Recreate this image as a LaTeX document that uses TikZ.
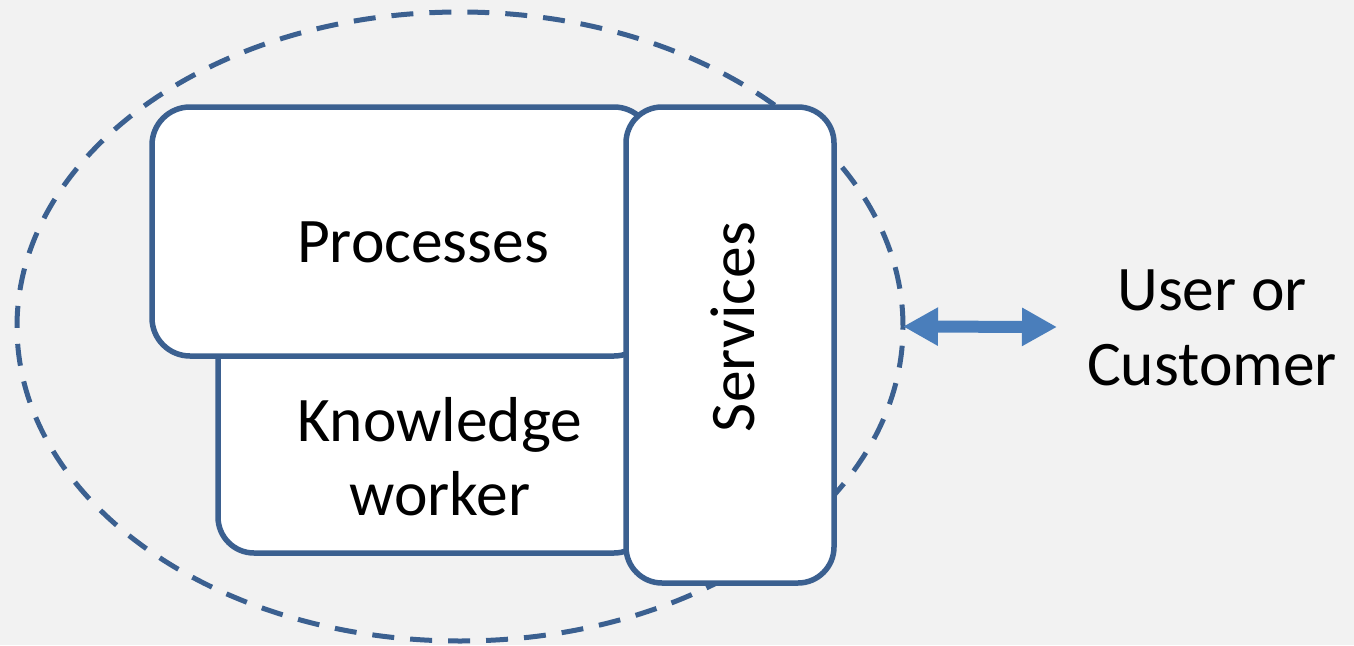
\documentclass[tikz,border=0pt]{standalone}
\usepackage{fontspec}
\setmainfont{Carlito}
\usetikzlibrary{shapes.geometric,arrows.meta}
\definecolor{bgc}{HTML}{F2F2F2}
\definecolor{linec}{HTML}{3B6090}
\definecolor{arrc}{HTML}{4A7EBB}
\tikzset{
  box/.style={draw=linec, line width=5.5pt, fill=white, rounded corners=38pt},
  lbl/.style={font=\fontsize{63.5}{75}\selectfont, text=black, inner sep=0pt, align=center},
  ring/.style={draw=linec, line width=5pt, dash pattern=on 22pt off 16pt, ellipse, inner sep=0pt, outer sep=0pt},
  link/.style={draw=arrc, line width=12pt, {Triangle[length=35pt,width=36pt]}-{Triangle[length=35pt,width=36pt]}}
}
\begin{document}
\begin{tikzpicture}[x=1pt,y=-1pt]
\fill[bgc] (0,0) rectangle (1354,645);
\useasboundingbox (0,0) rectangle (1354,645);
\node[ring, minimum width=886pt, minimum height=629pt] (ell) at (460,326.5) {};
\draw[box, rounded corners=36pt] (218,300) rectangle (650,553);
\draw[box] (152,107) rectangle (652,356);
\draw[box, rounded corners=36pt] (626,107) rectangle (834,583);
\node[lbl, anchor=base] (proc) at (423,262) {Processes};
\node[lbl, anchor=base] (know) at (440,441) {Knowledge};
\node[lbl, anchor=base] (work) at (440,515) {worker};
\node[lbl, anchor=base, rotate=90] (serv) at (754,327) {Services};
\node[lbl, anchor=base] (user) at (1212,310) {User or};
\node[lbl, anchor=base] (cust) at (1212,385) {Customer};
\coordinate (aend) at (1057,327);
\draw[link] (ell.east) -- (aend);
\end{tikzpicture}
\end{document}
